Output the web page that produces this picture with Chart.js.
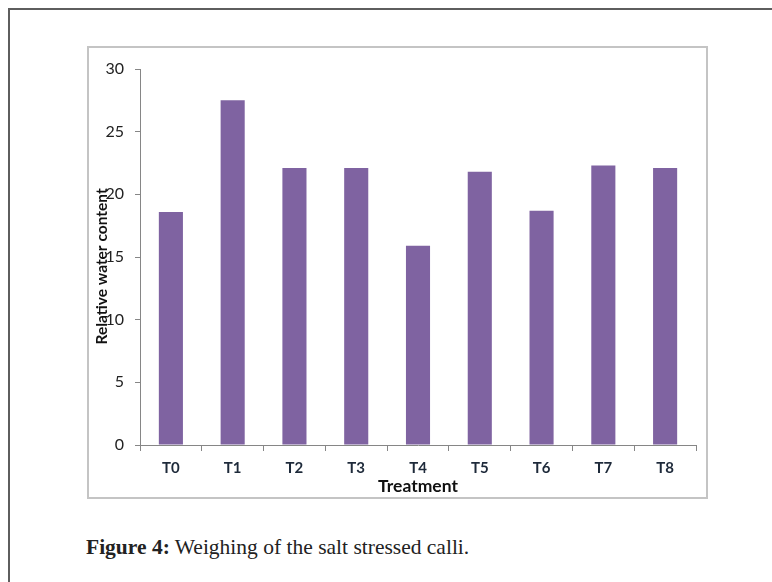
<!DOCTYPE html>
<html>
<head>
<meta charset="utf-8">
<script src="https://cdn.jsdelivr.net/npm/chart.js@4.4.1/dist/chart.umd.min.js"></script>
<style>
  html, body { margin: 0; padding: 0; background: #ffffff; }
  body { width: 772px; height: 582px; position: relative; overflow: hidden; }
  #frame-top { position: absolute; left: 8px; top: 8px; width: 764px; height: 2px; background: #5e5e5e; }
  #frame-left { position: absolute; left: 8px; top: 8px; width: 2px; height: 574px; background: #5e5e5e; }
  #plot-box { position: absolute; left: 87px; top: 46px; width: 621px; height: 453px;
              box-sizing: border-box; border: 2px solid #c4c4c4; }
  #chart-wrap { position: absolute; left: 88px; top: 47px; width: 619px; height: 451px; }
  #caption { position: absolute; left: 86px; top: 535px; font-family: "Liberation Serif", serif;
             font-size: 21.5px; color: #222; white-space: nowrap; }
  #caption b { font-weight: bold; }
</style>
</head>
<body>
<div id="frame-top"></div>
<div id="frame-left"></div>
<div id="plot-box"></div>
<div id="chart-wrap"><canvas id="chart" width="619" height="451"></canvas></div>
<div id="caption"><b>Figure 4:</b> Weighing of the salt stressed calli.</div>

<script>
// Treatments and their relative water content
const treatments = ["T0", "T1", "T2", "T3", "T4", "T5", "T6", "T7", "T8"];
const relativeWaterContent = [18.6, 27.5, 22.1, 22.1, 15.9, 21.8, 18.7, 22.3, 22.1];
const yTicks = [0, 5, 10, 15, 20, 25, 30];

const axisGrey = "#868686";
const labelFont = "Lato, 'Open Sans', sans-serif";

new Chart(document.getElementById("chart"), {
  type: "bar",
  data: {
    labels: treatments,
    datasets: [{
      label: "Relative water content",
      data: relativeWaterContent,
      backgroundColor: "#7f63a1",
      borderWidth: 0,
      categoryPercentage: 1.0,
      barPercentage: 0.39
    }]
  },
  options: {
    responsive: false,
    animation: false,
    devicePixelRatio: 1,
    layout: { padding: { top: 22, right: 11, left: 0, bottom: 0 } },
    plugins: { legend: { display: false }, tooltip: { enabled: false } },
    scales: {
      x: {
        grid: { display: true, drawOnChartArea: false, drawTicks: true, tickLength: 6, color: axisGrey, offset: true },
        border: { display: true, color: axisGrey, width: 1 },
        ticks: { color: "#1e2a3a", padding: 8, font: { family: labelFont, size: 15, weight: "bold" } },
        title: { display: true, text: "Treatment", color: "#111",
                 font: { family: labelFont, size: 17.5, weight: "bold" }, padding: { top: 0, bottom: 1 } },
        afterFit: (scale) => { scale.height = 53; }
      },
      y: {
        min: 0,
        max: 30,
        afterBuildTicks: (scale) => { scale.ticks = yTicks.map(v => ({ value: v })); },
        grid: { display: true, drawOnChartArea: false, drawTicks: true, tickLength: 5, color: axisGrey },
        border: { display: true, color: axisGrey, width: 1 },
        ticks: { color: "#222", padding: 11, font: { family: labelFont, size: 16 } },
        // trailing spaces nudge the rotated title a little below the axis centre
        title: { display: true, text: "Relative water content     ", color: "#111",
                 font: { family: labelFont, size: 15.5, weight: "bold" }, padding: { top: 5, bottom: 0 } },
        afterFit: (scale) => { scale.width = 52; }
      }
    }
  }
});
</script>
</body>
</html>
